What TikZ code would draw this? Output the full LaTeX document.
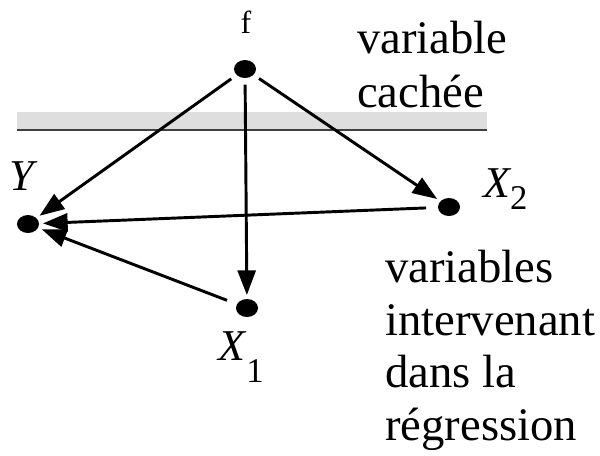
\documentclass[tikz,border=0pt]{standalone}
\usepackage{fontspec}
\setmainfont{Liberation Serif}
\usetikzlibrary{shapes.geometric,arrows.meta}
\begin{document}
\begin{tikzpicture}[x=0.75pt,y=-0.75pt,
  dot/.style={ellipse,fill=black,minimum width=16.5pt,minimum height=13.5pt,inner sep=0pt,outer sep=3pt},
  arr/.style={line width=2.2pt,-{Triangle[length=18.5pt,width=13.5pt]},shorten <=2pt},
  lbl/.style={inner sep=0pt,anchor=base west,font=\fontsize{35}{40}\selectfont},
  var/.style={inner sep=0pt,anchor=base west,font=\fontsize{33}{38}\selectfont\itshape}]
\useasboundingbox (0,0) rectangle (600,455);
% hidden-variable band
\fill[black!13] (17,112) rectangle (487,130);
\draw[line width=1.4pt,black!75] (17,130) -- (487,130);
% dots
\node[dot] (f) at (245,69) {};
\node[dot] (Y) at (28,224) {};
\node[dot] (X2) at (449,207) {};
\node[dot] (X1) at (247,308) {};
% labels
\node[inner sep=0pt,anchor=base,font=\fontsize{24}{28}\selectfont] (fl) at (246,33) {f};
\node[var] (Yl) at (9,190) {Y};
\node[var] (X2l) at (483,197) {X\raisebox{-9pt}{\upshape\fontsize{26}{30}\selectfont 2}};
\node[var] (X1l) at (218,360) {X\kern1pt\raisebox{-16.5pt}{\upshape\fontsize{26}{30}\selectfont 1}};
\node[lbl] (t1) at (357,53) {variable};
\node[lbl] (t2) at (357,107) {cachée};
\node[lbl] (t3) at (385,282) {variables};
\node[lbl] (t4) at (385,335) {intervenant};
\node[lbl] (t5) at (385,387) {dans la};
\node[lbl] (t6) at (385,440) {régression};
% arrows
\draw[arr] (f) -- (Y);
\draw[arr] (f) -- (X1);
\draw[arr] (f) -- (X2);
\draw[arr,shorten <=6pt] (X2) -- (Y);
\draw[arr,shorten <=5pt] (X1) -- (Y);
\end{tikzpicture}
\end{document}
